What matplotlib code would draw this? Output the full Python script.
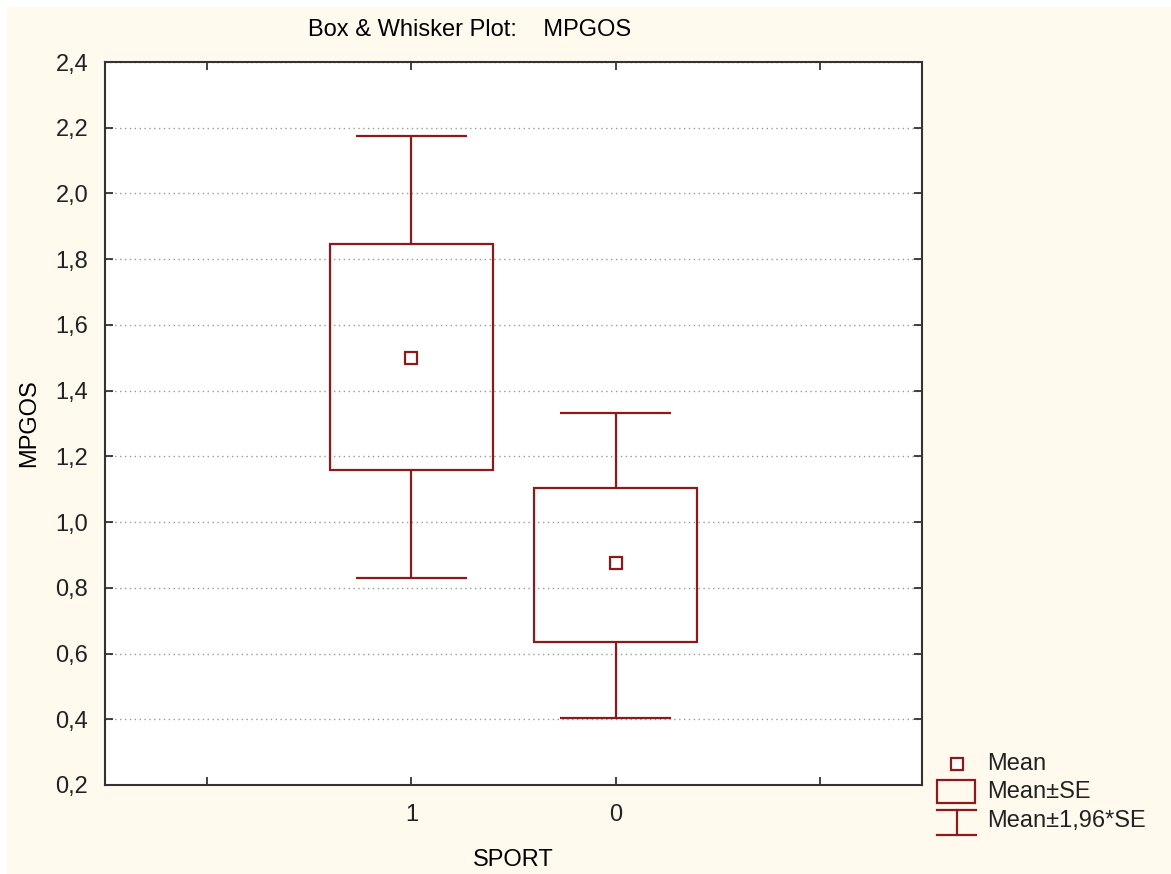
import matplotlib
matplotlib.use("Agg")
import matplotlib.pyplot as plt
from matplotlib.patches import Rectangle

# data
groups = ["1", "0"]
positions = [2, 3]
means = [1.50, 0.875]
se_low = [1.16, 0.635]
se_high = [1.845, 1.105]
ci_low = [0.83, 0.405]
ci_high = [2.175, 1.332]

red = "#8B1A1A"
cream = "#FFF9EE"

plt.rcParams['font.family'] = ['Liberation Sans', 'DejaVu Sans']

fig = plt.figure(figsize=(11.71, 8.74), dpi=100, facecolor="white")
fig.patches.append(Rectangle((7 / 1171, 0), 1, 1 - 7 / 874, transform=fig.transFigure,
                             facecolor=cream, edgecolor="none", zorder=-10))

ax = fig.add_axes([105 / 1171, 1 - 785 / 874, 817 / 1171, 723 / 874])
ax.set_facecolor("white")

# boxes (mean +- SE)
heights = [h - l for h, l in zip(se_high, se_low)]
ax.bar(positions, heights, bottom=se_low, width=0.8, fill=False,
       edgecolor=red, linewidth=1.6, zorder=3)

# whiskers (mean +- 1.96*SE)
ax.vlines(positions, se_high, ci_high, color=red, linewidth=1.6, zorder=3)
ax.vlines(positions, ci_low, se_low, color=red, linewidth=1.6, zorder=3)
caps_l = [p - 0.27 for p in positions]
caps_r = [p + 0.27 for p in positions]
ax.hlines(ci_high, caps_l, caps_r, color=red, linewidth=1.6, zorder=3)
ax.hlines(ci_low, caps_l, caps_r, color=red, linewidth=1.6, zorder=3)

# means
ax.plot(positions, means, linestyle="none", marker="s", markersize=8,
        markerfacecolor="white", markeredgecolor=red, markeredgewidth=1.6, zorder=4)

ax.set_xlim(0.5, 4.5)
ax.set_ylim(0.2, 2.4)
ax.set_xticks([1, 2, 3, 4])
ax.set_xticklabels(["", groups[0], groups[1], ""])
yt = [0.2 + 0.2 * i for i in range(12)]
ax.set_yticks(yt)
ax.set_yticklabels([f"{v:.1f}".replace(".", ",") for v in yt])
ax.tick_params(direction="in", length=6, width=1.2, top=True, right=True,
               labelsize=17, colors="#222222", pad=12)
ax.tick_params(axis="x", pad=14)
for s in ax.spines.values():
    s.set_linewidth(1.5)
    s.set_color("#333333")
ax.yaxis.grid(True, linestyle=(0, (1, 2.5)), color="#999999", linewidth=1)
ax.set_axisbelow(True)

ax.set_xlabel("SPORT", fontsize=17, labelpad=16)
ax.set_ylabel("MPGOS", fontsize=17, labelpad=11)
fig.text(470 / 1171, 1 - 30 / 874, "Box & Whisker Plot:    MPGOS", ha="center", va="center",
         fontsize=17)

# legend drawn in figure pixel space
lg = fig.add_axes([0, 0, 1, 1], facecolor="none")
lg.set_xlim(0, 1171)
lg.set_ylim(874, 0)
lg.axis("off")
lg.plot([957], [764], marker="s", markersize=8, markerfacecolor="white",
        markeredgecolor=red, markeredgewidth=1.6, linestyle="none")
lg.add_patch(Rectangle((937, 780), 38, 23, fill=False, edgecolor=red, linewidth=1.6))
lg.plot([937, 976], [810, 810], color=red, linewidth=1.6)
lg.plot([937, 976], [835, 835], color=red, linewidth=1.6)
lg.plot([957, 957], [810, 835], color=red, linewidth=1.6)
for ty, label in zip([764, 792, 821], ["Mean", "Mean±SE", "Mean±1,96*SE"]):
    lg.text(987, ty, label, fontsize=17, va="center", ha="left", color="#222222")

fig.savefig("out.png", dpi=100, facecolor=fig.get_facecolor())
